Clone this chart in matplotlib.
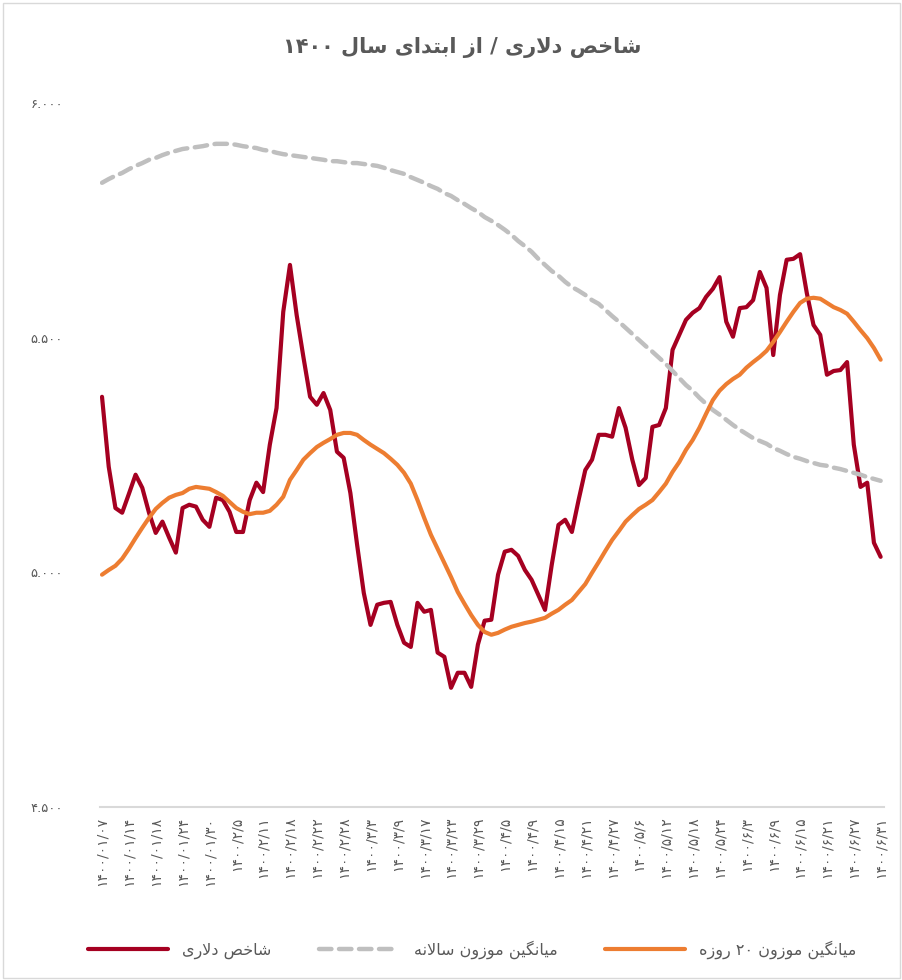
import re
import numpy as np
import matplotlib
matplotlib.use('Agg')
import matplotlib.pyplot as plt
from matplotlib.patches import Rectangle

plt.rcParams['font.family'] = ['DejaVu Sans']

# Data.
dollar_index = [
    5374, 5225, 5137, 5127, 5167, 5208, 5180, 5127, 5084, 5108,
    5074, 5042, 5137, 5144, 5140, 5112, 5097, 5159, 5154, 5129,
    5086, 5086, 5154, 5191, 5171, 5272, 5350, 5555, 5655, 5548,
    5459, 5374, 5357, 5382, 5346, 5257, 5244, 5169, 5059, 4956,
    4888, 4931, 4935, 4937, 4888, 4850, 4841, 4935, 4916, 4920,
    4829, 4820, 4754, 4786, 4786, 4756, 4846, 4897, 4899, 4995,
    5044, 5048, 5035, 5005, 4984, 4952, 4920, 5016, 5101, 5112,
    5086, 5154, 5218, 5240, 5293, 5293, 5289, 5350, 5308, 5240,
    5186, 5201, 5310, 5314, 5350, 5474, 5506, 5538, 5553, 5563,
    5587, 5604, 5629, 5534, 5502, 5563, 5565, 5580, 5640, 5606,
    5463, 5591, 5666, 5668, 5678, 5595, 5527, 5506, 5421, 5429,
    5431, 5448, 5272, 5182, 5191, 5063, 5033,
]
annual_avg = [
    5830, 5838, 5845, 5851, 5859, 5866, 5872, 5879, 5883, 5889,
    5894, 5898, 5902, 5904, 5906, 5908, 5911, 5913, 5913, 5913,
    5911, 5908, 5906, 5904, 5900, 5898, 5894, 5891, 5889, 5887,
    5885, 5883, 5881, 5879, 5876, 5876, 5874, 5872, 5872, 5870,
    5868, 5866, 5862, 5857, 5853, 5849, 5842, 5836, 5830, 5823,
    5817, 5808, 5802, 5793, 5785, 5776, 5768, 5757, 5749, 5740,
    5730, 5719, 5706, 5695, 5683, 5668, 5655, 5642, 5632, 5619,
    5608, 5600, 5591, 5580, 5572, 5559, 5546, 5534, 5521, 5508,
    5495, 5482, 5470, 5457, 5444, 5429, 5414, 5399, 5387, 5372,
    5359, 5346, 5336, 5325, 5314, 5304, 5295, 5286, 5280, 5274,
    5265, 5259, 5252, 5246, 5242, 5237, 5233, 5229, 5227, 5223,
    5220, 5216, 5212, 5208, 5203, 5199, 5195,
]
avg_20d = [
    4995, 5005, 5014, 5029, 5050, 5073, 5095, 5116, 5135, 5148,
    5159, 5165, 5169, 5178, 5182, 5180, 5178, 5171, 5163, 5150,
    5137, 5129, 5124, 5127, 5127, 5131, 5144, 5161, 5197, 5218,
    5240, 5254, 5267, 5276, 5284, 5293, 5297, 5297, 5293, 5282,
    5272, 5263, 5254, 5242, 5229, 5212, 5189, 5154, 5116, 5080,
    5050, 5020, 4990, 4958, 4933, 4909, 4888, 4873, 4867, 4871,
    4878, 4884, 4888, 4892, 4895, 4899, 4903, 4912, 4920, 4931,
    4941, 4958, 4975, 4999, 5022, 5046, 5069, 5088, 5108, 5122,
    5135, 5144, 5154, 5171, 5189, 5214, 5235, 5261, 5282, 5308,
    5338, 5367, 5387, 5401, 5412, 5421, 5436, 5448, 5459, 5472,
    5491, 5512, 5534, 5555, 5574, 5583, 5585, 5583, 5574, 5565,
    5559, 5551, 5534, 5516, 5499, 5478, 5453,
]
tick_labels = [
    '۱۴۰۰/۰۱/۰۷', '۱۴۰۰/۰۱/۱۴', '۱۴۰۰/۰۱/۱۸', '۱۴۰۰/۰۱/۲۴', '۱۴۰۰/۰۱/۳۰',
    '۱۴۰۰/۲/۵', '۱۴۰۰/۲/۱۱', '۱۴۰۰/۲/۱۸', '۱۴۰۰/۲/۲۲', '۱۴۰۰/۲/۲۸',
    '۱۴۰۰/۳/۳', '۱۴۰۰/۳/۹', '۱۴۰۰/۳/۱۷', '۱۴۰۰/۳/۲۳', '۱۴۰۰/۳/۲۹',
    '۱۴۰۰/۴/۵', '۱۴۰۰/۴/۹', '۱۴۰۰/۴/۱۵', '۱۴۰۰/۴/۲۱', '۱۴۰۰/۴/۲۷',
    '۱۴۰۰/۵/۶', '۱۴۰۰/۵/۱۲', '۱۴۰۰/۵/۱۸', '۱۴۰۰/۵/۲۴', '۱۴۰۰/۶/۳',
    '۱۴۰۰/۶/۹', '۱۴۰۰/۶/۱۵', '۱۴۰۰/۶/۲۱', '۱۴۰۰/۶/۲۷', '۱۴۰۰/۶/۳۱',
]
y_ticks = [4500, 5000, 5500, 6000]
y_tick_labels = ['۴.۵۰۰', '۵.۰۰۰', '۵.۵۰۰', '۶.۰۰۰']

title = 'شاخص دلاری / از ابتدای سال ۱۴۰۰'
names = ['شاخص دلاری', 'میانگین موزون سالانه', 'میانگین موزون ۲۰ روزه']

# matplotlib has no Arabic shaping / bidi, so do a small one by hand.
# (isolated, final, initial, medial)
FORMS = {
    'ا': ('\uFE8D', '\uFE8E', None, None),
    'ب': ('\uFE8F', '\uFE90', '\uFE91', '\uFE92'),
    'ت': ('\uFE95', '\uFE96', '\uFE97', '\uFE98'),
    'خ': ('\uFEA5', '\uFEA6', '\uFEA7', '\uFEA8'),
    'د': ('\uFEA9', '\uFEAA', None, None),
    'ر': ('\uFEAD', '\uFEAE', None, None),
    'ز': ('\uFEAF', '\uFEB0', None, None),
    'س': ('\uFEB1', '\uFEB2', '\uFEB3', '\uFEB4'),
    'ش': ('\uFEB5', '\uFEB6', '\uFEB7', '\uFEB8'),
    'ص': ('\uFEB9', '\uFEBA', '\uFEBB', '\uFEBC'),
    'ل': ('\uFEDD', '\uFEDE', '\uFEDF', '\uFEE0'),
    'م': ('\uFEE1', '\uFEE2', '\uFEE3', '\uFEE4'),
    'ن': ('\uFEE5', '\uFEE6', '\uFEE7', '\uFEE8'),
    'ه': ('\uFEE9', '\uFEEA', '\uFEEB', '\uFEEC'),
    'و': ('\uFEED', '\uFEEE', None, None),
    'ی': ('\uFBFC', '\uFBFD', '\uFBFE', '\uFBFF'),
    'گ': ('\uFB92', '\uFB93', '\uFB94', '\uFB95'),
}


def rtl(text):
    out = []
    i = 0
    while i < len(text):
        c = text[i]
        if c not in FORMS:
            out.append(c)
            i += 1
            continue
        prev = text[i - 1] if i > 0 else None
        nxt = text[i + 1] if i + 1 < len(text) else None
        jp = prev in FORMS and FORMS[prev][2] is not None
        if c == 'ل' and nxt == 'ا':
            out.append('\uFEFC' if jp else '\uFEFB')
            i += 2
            continue
        jn = nxt in FORMS and FORMS[c][2] is not None
        iso, fin, ini, med = FORMS[c]
        if jp and jn:
            out.append(med)
        elif jp:
            out.append(fin)
        elif jn:
            out.append(ini)
        else:
            out.append(iso)
        i += 1
    s = ''.join(out)[::-1]
    return re.sub(r'[۰-۹0-9]+', lambda m: m.group(0)[::-1], s)


x = np.arange(len(dollar_index))
text_color = '#595959'

fig = plt.figure(figsize=(9.03, 9.80), dpi=100)
ax = fig.add_axes([100 / 903, 1 - 807 / 980, 784 / 903, 704 / 980])

l1, = ax.plot(x, dollar_index, color='#A50021', lw=3.0, solid_joinstyle='round',
              solid_capstyle='round')
l2, = ax.plot(x, annual_avg, color='#BFBFBF', lw=3.2, dashes=(2.8, 1.7),
              dash_capstyle='round')
l3, = ax.plot(x, avg_20d, color='#ED7D31', lw=3.0, solid_capstyle='round')

ax.set_xlim(-0.3, 116.5)
ax.set_ylim(4500, 6000)
ax.set_xticks(x[::4])
ax.set_xticklabels(tick_labels, rotation=90, fontsize=10, color=text_color,
                   va='top', ha='center')
ax.set_yticks(y_ticks)
ax.set_yticklabels(y_tick_labels, fontsize=9.5, color=text_color, ha='left')
ax.tick_params(axis='y', length=0, pad=50)
ax.tick_params(axis='x', length=0, pad=7)

for side in ['top', 'right', 'left']:
    ax.spines[side].set_visible(False)
ax.spines['bottom'].set_color('#D9D9D9')
ax.spines['bottom'].set_linewidth(1.5)

fig.text(0.512, 1 - 47 / 980, rtl(title), ha='center', va='center',
         fontsize=15, fontweight='bold', color=text_color)

leg = fig.legend([l1, l2, l3], [rtl(n) for n in names], loc='center',
                 bbox_to_anchor=(0.523, 1 - 950 / 980), ncol=3, frameon=False,
                 fontsize=11.5, handlelength=5.0, columnspacing=3.0,
                 handletextpad=0.9)
for t in leg.get_texts():
    t.set_color(text_color)

fig.add_artist(Rectangle((0.003, 0.002), 0.994, 0.995, transform=fig.transFigure,
                         fill=False, edgecolor='#D9D9D9', lw=1))

fig.savefig('out.png', dpi=100)
